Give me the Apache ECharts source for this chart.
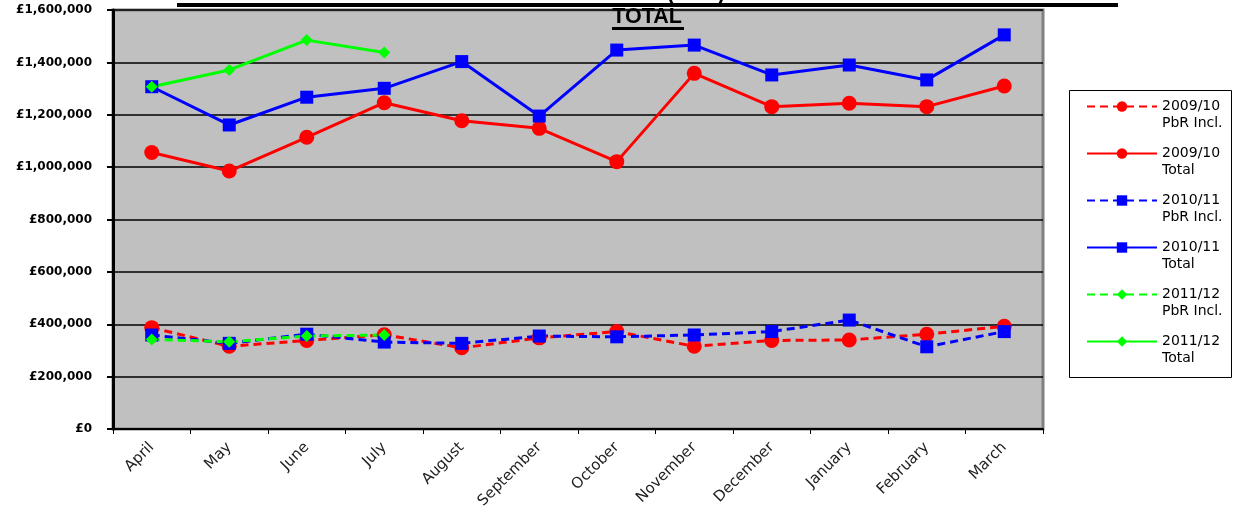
<!DOCTYPE html>
<html>
<head>
<meta charset="utf-8">
<script src="https://cdn.jsdelivr.net/npm/echarts@6/dist/echarts.min.js"></script>
<style>
  html, body { margin: 0; padding: 0; background: #ffffff; }
  #chart { width: 1234px; height: 519px; }
</style>
</head>
<body>
<div id="chart"></div>
<script>
// Months of the financial year (April to March)
const months = ['April', 'May', 'June', 'July', 'August', 'September',
  'October', 'November', 'December', 'January', 'February', 'March'];

// Monthly spend, £
const pbr0910 = [387000, 316000, 338000, 360000, 310000, 348000, 372000, 316000, 338000, 340000, 362000, 392000];
const total0910 = [1056000, 985000, 1114000, 1246000, 1177000, 1148000, 1021000, 1358000, 1231000, 1244000, 1231000, 1310000];
const pbr1011 = [359000, 327000, 362000, 332000, 327000, 355000, 352000, 359000, 372000, 416000, 314000, 372000];
const total1011 = [1307000, 1161000, 1267000, 1301000, 1403000, 1195000, 1447000, 1466000, 1352000, 1390000, 1333000, 1505000];
const pbr1112 = [342000, 333000, 355000, 359000];
const total1112 = [1307000, 1371000, 1485000, 1438000];

// Value axis ticks
const yMin = 0, yMax = 1600000, yStep = 200000;

const RED = '#ff0000', BLUE = '#0000ff', GREEN = '#00ff00';
const DASH = [8, 5];

function lineSeries(name, data, color, symbol, size, dashed) {
  return {
    name: name,
    type: 'line',
    data: data,
    symbol: symbol,
    symbolSize: size,
    showSymbol: true,
    showAllSymbol: true,
    itemStyle: { color: color, borderWidth: 0 },
    lineStyle: { color: color, width: 3, type: dashed ? DASH : 'solid' },
    emphasis: { disabled: true },
    animation: false
  };
}

const chart = echarts.init(document.getElementById('chart'), null, { renderer: 'canvas' });

chart.setOption({
  backgroundColor: '#ffffff',
  animation: false,
  title: {
    text: 'DRUG EXPENDITURE - PAYMENT BY RESULTS (PbR) INCLUDED DRUGS COMPARED WITH\nTOTAL',
    left: 647,
    top: -17,
    textAlign: 'center',
    padding: 0,
    z: 10,
    textStyle: {
      fontFamily: 'Liberation Sans',
      fontWeight: 'bold',
      fontSize: 21.5,
      lineHeight: 23,
      color: '#000000'
    }
  },
  graphic: [
    // title underlines
    { type: 'rect', z: 10, shape: { x: 177, y: 3, width: 941, height: 4 }, style: { fill: '#000' } },
    { type: 'rect', z: 10, shape: { x: 612, y: 27, width: 72, height: 3 }, style: { fill: '#000' } },
    // legend frame
    { type: 'rect', z: 1, shape: { x: 1069.5, y: 90.5, width: 162, height: 287 },
      style: { fill: '#ffffff', stroke: '#000000', lineWidth: 1 } }
  ],
  legend: {
    orient: 'vertical',
    left: 1086,
    top: 81,
    padding: 0,
    itemGap: -4,
    itemWidth: 70,
    itemHeight: 13,
    z: 5,
    selectedMode: false,
    textStyle: {
      fontFamily: 'DejaVu Sans',
      fontSize: 14,
      lineHeight: 17,
      color: '#000000'
    },
    // blank first line keeps the marker level with the year line
    formatter: function (name) { return '\n' + name.replace(' ', '\n'); },
    data: ['2009/10 PbR Incl.', '2009/10 Total', '2010/11 PbR Incl.', '2010/11 Total', '2011/12 PbR Incl.', '2011/12 Total']
  },
  grid: {
    left: 113,
    right: 191,
    top: 10,
    bottom: 90,
    show: true,
    backgroundColor: '#c0c0c0',
    borderColor: '#808080',
    borderWidth: 3,
    containLabel: false
  },
  xAxis: {
    type: 'category',
    data: months,
    boundaryGap: true,
    axisLine: { show: true, lineStyle: { color: '#000000', width: 2 } },
    axisTick: { show: true, length: 5, lineStyle: { color: '#000000', width: 1 } },
    axisLabel: {
      rotate: 45,
      margin: 16,
      interval: 0,
      fontFamily: 'DejaVu Sans',
      fontSize: 15,
      color: '#222222'
    },
    splitLine: { show: false }
  },
  yAxis: {
    type: 'value',
    min: yMin,
    max: yMax,
    interval: yStep,
    axisLine: { show: true, lineStyle: { color: '#000000', width: 3 } },
    axisTick: { show: true, length: 6, lineStyle: { color: '#000000', width: 2 } },
    axisLabel: {
      margin: 21,
      fontFamily: 'DejaVu Sans',
      fontWeight: 'bold',
      fontSize: 12,
      color: '#000000',
      formatter: function (v) { return '£' + v.toLocaleString('en-GB'); }
    },
    splitLine: { show: true, lineStyle: { color: '#000000', width: 1.5 } }
  },
  series: [
    lineSeries('2009/10 PbR Incl.', pbr0910, RED, 'circle', 15, true),
    lineSeries('2009/10 Total', total0910, RED, 'circle', 15, false),
    lineSeries('2010/11 PbR Incl.', pbr1011, BLUE, 'rect', 13, true),
    lineSeries('2010/11 Total', total1011, BLUE, 'rect', 13, false),
    lineSeries('2011/12 PbR Incl.', pbr1112, GREEN, 'diamond', 12, true),
    lineSeries('2011/12 Total', total1112, GREEN, 'diamond', 12, false)
  ]
});
</script>
</body>
</html>
